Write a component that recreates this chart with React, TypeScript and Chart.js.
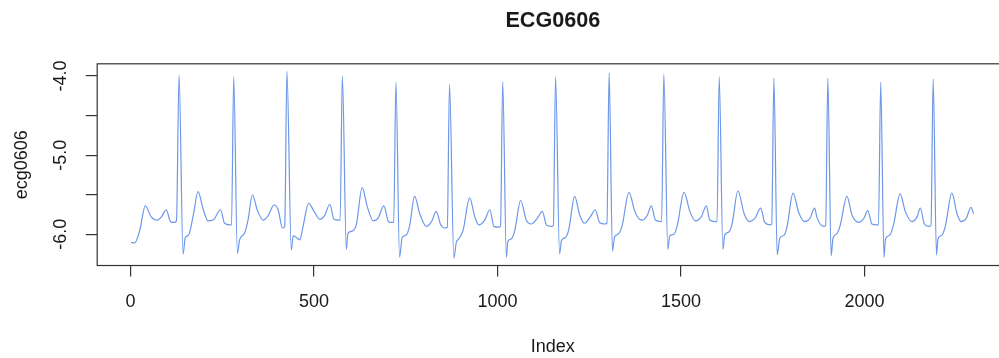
import { useEffect, useRef } from "react";
import { Chart, registerables } from "chart.js";

Chart.register(...registerables);

const TITLE = "ECG0606";
const X_TITLE = "Index";
const Y_TITLE = "ecg0606";

const X_TICKS = [0, 500, 1000, 1500, 2000];
const X_TICK_LABELS = ["0", "500", "1000", "1500", "2000"];
const Y_TICKS = [-6, -5.5, -5, -4.5, -4];
const Y_TICK_LABELS = ["-6.0", "", "-5.0", "", "-4.0"];

// sample index of each reading, grouped one heartbeat per line
const ECG_INDEX = [
  1, 11, 25, 40, 56, 73, 84, 97, 109, 118, 125,
  132, 143, 149, 158, 170, 184, 197, 211, 225, 245, 256, 270, 275,
  281, 291, 297, 311, 320, 332, 345, 361, 374, 391, 402, 414, 420,
  426, 438, 443, 452, 461, 470, 485, 500, 515, 529, 543, 554, 567, 571,
  577, 588, 592, 603, 615, 631, 645, 661, 674, 690, 703, 712, 717,
  723, 733, 740, 751, 760, 774, 788, 806, 820, 833, 845, 856, 863,
  869, 881, 888, 892, 906, 924, 938, 949, 965, 979, 990, 1003, 1008,
  1014, 1024, 1028, 1037, 1047, 1063, 1078, 1092, 1108, 1122, 1133, 1146, 1152,
  1158, 1169, 1174, 1185, 1194, 1210, 1224, 1237, 1254, 1266, 1278, 1292, 1298,
  1304, 1313, 1319, 1328, 1339, 1358, 1374, 1387, 1396, 1408, 1419, 1430, 1445, 1447,
  1453, 1464, 1469, 1481, 1490, 1508, 1524, 1539, 1555, 1569, 1578, 1593, 1598,
  1604, 1614, 1619, 1630, 1639, 1655, 1672, 1687, 1701, 1717, 1728, 1742, 1747,
  1753, 1762, 1769, 1781, 1789, 1805, 1821, 1837, 1851, 1864, 1870, 1879, 1889, 1894,
  1900, 1909, 1914, 1925, 1934, 1952, 1966, 1984, 1998, 2009, 2020, 2032, 2038,
  2044, 2053, 2057, 2069, 2079, 2097, 2111, 2129, 2143, 2152, 2163, 2175, 2181,
  2187, 2196, 2200, 2211, 2220, 2238, 2252, 2263, 2277, 2290, 2297,
];

// recorded amplitude at each index above
const ECG0606 = [
  -6.10, -6.11, -5.95, -5.64, -5.78, -5.82, -5.78, -5.69, -5.84, -5.85, -5.83,
  -3.99, -6.25, -6.04, -6.01, -5.78, -5.46, -5.67, -5.83, -5.82, -5.69, -5.86, -5.88, -5.88,
  -4.01, -6.24, -6.07, -5.98, -5.82, -5.50, -5.69, -5.82, -5.77, -5.63, -5.69, -5.92, -5.90,
  -3.94, -6.20, -6.02, -6.04, -6.07, -5.90, -5.61, -5.71, -5.81, -5.76, -5.62, -5.81, -5.82, -5.82,
  -4.00, -6.19, -5.99, -5.96, -5.88, -5.41, -5.65, -5.83, -5.80, -5.64, -5.84, -5.85, -5.85,
  -4.08, -6.29, -6.04, -6.01, -5.90, -5.52, -5.74, -5.90, -5.84, -5.71, -5.88, -5.92, -5.91,
  -4.11, -6.30, -6.09, -6.07, -5.95, -5.54, -5.78, -5.88, -5.82, -5.69, -5.90, -5.91, -5.90,
  -4.07, -6.29, -6.09, -6.06, -5.95, -5.57, -5.82, -5.87, -5.80, -5.71, -5.88, -5.90, -5.89,
  -4.01, -6.25, -6.08, -6.04, -5.94, -5.52, -5.76, -5.86, -5.77, -5.69, -5.85, -5.87, -5.86,
  -3.96, -6.21, -6.03, -6.00, -5.90, -5.47, -5.71, -5.81, -5.82, -5.76, -5.64, -5.82, -5.84, -5.84,
  -3.98, -6.19, -6.02, -6.00, -5.88, -5.47, -5.71, -5.83, -5.78, -5.64, -5.82, -5.84, -5.84,
  -4.01, -6.19, -6.01, -5.97, -5.87, -5.45, -5.74, -5.84, -5.80, -5.67, -5.85, -5.88, -5.87,
  -4.03, -6.26, -6.05, -6.01, -5.90, -5.48, -5.73, -5.84, -5.80, -5.67, -5.78, -5.87, -5.90, -5.89,
  -4.03, -6.27, -6.05, -5.99, -5.88, -5.52, -5.76, -5.85, -5.80, -5.70, -5.87, -5.88, -5.88,
  -4.08, -6.29, -6.06, -6.01, -5.88, -5.49, -5.71, -5.84, -5.78, -5.67, -5.87, -5.90, -5.89,
  -4.04, -6.26, -6.06, -6.01, -5.90, -5.48, -5.74, -5.84, -5.80, -5.66, -5.74,
];

const X_MIN = -91;
const X_MAX = 2392;
const Y_MIN = -6.394;
const Y_MAX = -3.846;

const FONT_FAMILY = '"Liberation Sans", Arial, Helvetica, sans-serif';
const INK = "#1a1a1a";

// R-style frame around the plotting region plus the main title
const framePlugin = {
  id: "frameAndTitle",
  afterDraw(chart: any) {
    const { ctx, chartArea: a } = chart;
    ctx.save();
    ctx.strokeStyle = "#333";
    ctx.lineWidth = 1.2;
    ctx.strokeRect(a.left, a.top, a.right - a.left, a.bottom - a.top);
    ctx.font = `bold 21.6px ${FONT_FAMILY}`;
    ctx.fillStyle = INK;
    ctx.textAlign = "center";
    ctx.textBaseline = "alphabetic";
    ctx.fillText(TITLE, (a.left + a.right) / 2, 27.3);
    ctx.restore();
  },
};

export default function App() {
  const canvasRef = useRef<HTMLCanvasElement | null>(null);

  useEffect(() => {
    const canvas = canvasRef.current;
    if (!canvas) return;
    const points = ECG_INDEX.map((x, i) => ({ x, y: ECG0606[i] }));

    const chart = new Chart(canvas, {
      type: "line",
      data: {
        datasets: [
          {
            data: points,
            borderColor: "#6d97e8",
            borderWidth: 1.2,
            pointRadius: 0,
            cubicInterpolationMode: "monotone",
            fill: false,
          },
        ],
      },
      options: {
        animation: false,
        responsive: false,
        devicePixelRatio: 1,
        layout: { padding: { top: 63.8, right: 1.6, left: 0, bottom: 0 } },
        plugins: {
          legend: { display: false },
          tooltip: { enabled: false },
          title: { display: false },
        },
        scales: {
          x: {
            type: "linear",
            min: X_MIN,
            max: X_MAX,
            afterBuildTicks: (scale: any) => {
              scale.ticks = X_TICKS.map((v) => ({ value: v }));
            },
            afterFit: (scale: any) => {
              scale.height = 92.5;
            },
            border: { display: false },
            grid: {
              drawOnChartArea: false,
              drawTicks: true,
              tickLength: 11,
              color: "#333",
              lineWidth: 1.2,
            },
            ticks: {
              padding: 15,
              color: INK,
              font: { family: FONT_FAMILY, size: 18 },
              maxRotation: 0,
              minRotation: 0,
              autoSkip: false,
              callback: (v: any) => {
                const i = X_TICKS.indexOf(Number(v));
                return i >= 0 ? X_TICK_LABELS[i] : "";
              },
            },
            title: {
              display: true,
              text: X_TITLE,
              color: INK,
              font: { family: FONT_FAMILY, size: 18 },
              padding: { top: 0, bottom: 0.5 },
            },
          },
          y: {
            type: "linear",
            min: Y_MIN,
            max: Y_MAX,
            afterBuildTicks: (scale: any) => {
              scale.ticks = Y_TICKS.map((v) => ({ value: v }));
            },
            afterFit: (scale: any) => {
              scale.width = 97.2;
            },
            border: { display: false },
            grid: {
              drawOnChartArea: false,
              drawTicks: true,
              tickLength: 11.5,
              color: "#333",
              lineWidth: 1.2,
            },
            ticks: {
              padding: 8.7,
              color: INK,
              font: { family: FONT_FAMILY, size: 18 },
              minRotation: 90,
              maxRotation: 90,
              crossAlign: "center",
              autoSkip: false,
              callback: (v: any) => {
                const i = Y_TICKS.indexOf(Number(v));
                return i >= 0 ? Y_TICK_LABELS[i] : "";
              },
            },
            title: {
              display: true,
              text: Y_TITLE,
              color: INK,
              font: { family: FONT_FAMILY, size: 18 },
              padding: { top: 11.7, bottom: 0 },
            },
          },
        },
      },
      plugins: [framePlugin],
    });

    return () => chart.destroy();
  }, []);

  return (
    <div
      style={{
        position: "absolute",
        left: 0,
        top: 0,
        width: 999,
        height: 358,
        overflow: "hidden",
        background: "#fff",
      }}
    >
      <canvas
        ref={canvasRef}
        width={1010}
        height={358}
        style={{ display: "block", width: 1010, height: 358 }}
      />
    </div>
  );
}
